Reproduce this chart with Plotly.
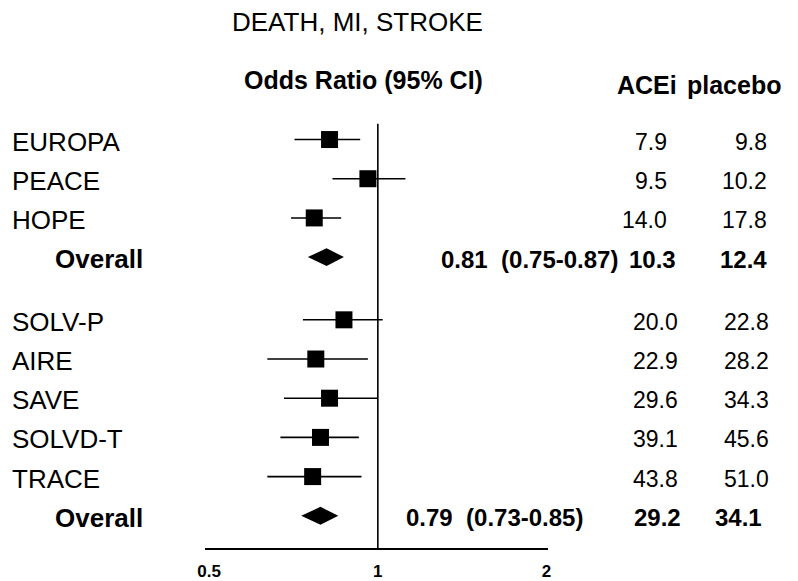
import math
import plotly.graph_objects as go

# ---- data -------------------------------------------------------------
studies = ["EUROPA", "PEACE", "HOPE", "Overall",
           "SOLV-P", "AIRE", "SAVE", "SOLVD-T", "TRACE", "Overall"]
is_overall = [False, False, False, True,
              False, False, False, False, False, True]
odds_ratio = [0.82, 0.96, 0.77, 0.81, 0.87, 0.775, 0.82, 0.79, 0.765, 0.79]
ci_low = [0.71, 0.83, 0.70, 0.75, 0.735, 0.635, 0.68, 0.67, 0.635, 0.73]
ci_high = [0.93, 1.12, 0.86, 0.87, 1.02, 0.96, 1.00, 0.925, 0.935, 0.85]
acei = ["7.9", "9.5", "14.0", "10.3", "20.0", "22.9", "29.6", "39.1", "43.8", "29.2"]
placebo = ["9.8", "10.2", "17.8", "12.4", "22.8", "28.2", "34.3", "45.6", "51.0", "34.1"]
tick_vals = [0.5, 1, 2]
tick_text = ["0.5", "1", "2"]

# ---- layout constants (pixels) ---------------------------------------
W, H = 798, 581
FONT = "Liberation Sans, Arial, sans-serif"
ROW_TOP, ROW_PITCH, GROUP_GAP = 141, 39.6, 0.6
AXIS_Y = 555
PX_PER_DOUBLING = 171
NULL_PX = 375

row_y = [ROW_TOP + ROW_PITCH * (i + (GROUP_GAP if i >= 4 else 0))
         for i in range(len(studies))]


def px_to_log10(px):
    return math.log10(2 ** ((px - NULL_PX) / PX_PER_DOUBLING))


fig = go.Figure()

# individual trials: squares with CI whiskers
idx = [i for i, o in enumerate(is_overall) if not o]
fig.add_trace(go.Scatter(
    x=[odds_ratio[i] for i in idx],
    y=[row_y[i] for i in idx],
    mode="markers",
    marker=dict(symbol="square", size=17, color="black", line=dict(width=0)),
    error_x=dict(type="data", symmetric=False,
                 array=[ci_high[i] - odds_ratio[i] for i in idx],
                 arrayminus=[odds_ratio[i] - ci_low[i] for i in idx],
                 width=0, thickness=1.6, color="black"),
    showlegend=False, hoverinfo="skip",
))

# pooled estimates: diamonds
half_h = 9
for i, o in enumerate(is_overall):
    if not o:
        continue
    y = row_y[i]
    fig.add_trace(go.Scatter(
        x=[ci_low[i], odds_ratio[i], ci_high[i], odds_ratio[i], ci_low[i]],
        y=[y, y - half_h, y, y + half_h, y],
        mode="lines", fill="toself", fillcolor="black",
        line=dict(width=0, color="black"),
        showlegend=False, hoverinfo="skip",
    ))

# line of no effect
fig.add_shape(type="line", xref="x", yref="y", x0=1, x1=1, y0=125, y1=AXIS_Y,
              line=dict(color="black", width=1.6))

ann = []


def text(x, y, s, size=26, bold=False, anchor="left"):
    ann.append(dict(
        xref="paper", yref="y", x=x / W, y=y,
        text=f"<b>{s}</b>" if bold else s,
        showarrow=False, xanchor=anchor, yanchor="middle",
        font=dict(family=FONT, size=size, color="black"),
    ))


text(225, 22, "DEATH, MI, STROKE", size=26)
text(237, 81, "Odds Ratio (95% CI)", size=25, bold=True)
text(615, 86, "ACEi", size=25, bold=True)
text(686, 86, "placebo", size=25, bold=True)

or_text_x = {3: 437, 9: 402}
for i, name in enumerate(studies):
    y = row_y[i] + 2
    grp2 = i >= 4
    if is_overall[i]:
        text(46, y, name, bold=True)
        label = f"{odds_ratio[i]:.2f}\u00a0\u00a0({ci_low[i]:.2f}-{ci_high[i]:.2f})"
        text(or_text_x[i], y, label, size=24, bold=True)
        text(684 if grp2 else 679, y, acei[i], size=24, bold=True, anchor="right")
        text(767 if grp2 else 772, y, placebo[i], size=24, bold=True, anchor="right")
    else:
        text(2, y, name)
        text(681 if grp2 else 670, y, acei[i], size=23, anchor="right")
        text(774 if grp2 else 772, y, placebo[i], size=23, anchor="right")

fig.update_layout(
    width=W, height=H,
    margin=dict(l=0, r=0, t=0, b=0),
    paper_bgcolor="white", plot_bgcolor="white",
    annotations=ann,
    xaxis=dict(
        type="log",
        domain=[200 / W, 548 / W],
        range=[px_to_log10(200), px_to_log10(548)],
        anchor="free", position=(H - AXIS_Y) / H,
        showline=True, linecolor="black", linewidth=1.6,
        showgrid=False, zeroline=False, ticks="",
        tickvals=tick_vals,
        ticktext=[f"<b>{t}</b>" for t in tick_text],
        tickfont=dict(family=FONT, size=17, color="black"),
        ticklabelstandoff=7,
    ),
    yaxis=dict(
        range=[H, 0], domain=[0, 1],
        visible=False, showgrid=False, zeroline=False,
    ),
)

fig.write_html("out.html")
